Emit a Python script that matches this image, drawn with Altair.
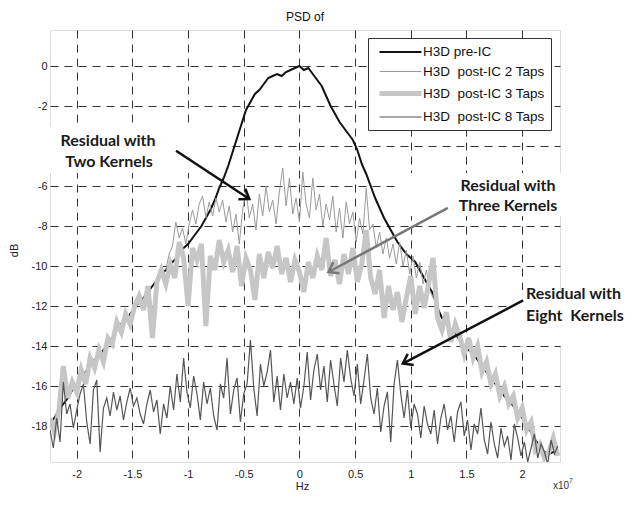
import altair as alt
import pandas as pd

# ---------------- data ----------------
F_START = -2.24          # first frequency sample, x10^7 Hz
STEP_A = 0.04            # grid of pre-IC and 3-tap traces
STEP_B = 0.03            # grid of 2-tap and 8-tap traces
TAP2_START = -1.20

PRE_IC = [
    -17.8, -17.6, -17.2, -16.9, -16.6, -16.2, -15.9, -15.6, -15.3, -15.0,
    -14.7, -14.5, -14.2, -13.9, -13.6, -13.2, -12.9, -12.7, -12.4, -12.1,
    -11.8, -11.6, -11.3, -11.0, -10.7, -10.4, -10.2, -9.9, -9.7, -9.4,
    -9.1, -8.9,
    -8.6, -8.3, -8.0, -7.6, -7.2, -6.7, -6.1, -5.6, -5.0, -4.3,
    -3.6, -2.9, -2.2, -1.8, -1.4, -1.2, -0.9, -0.6, -0.5, -0.4,
    -0.5, -0.3, -0.2, -0.1, 0.0, -0.2, -0.1, -0.4, -0.7, -1.0,
    -1.5, -2.0, -2.4, -2.8, -3.1, -3.4, -3.7, -4.2, -4.9, -5.4,
    -6.0, -6.6, -7.1, -7.6, -8.0, -8.4, -8.8, -9.1, -9.4, -9.6,
    -9.8, -10.2, -10.6, -11.0, -11.4, -12.1, -12.6, -12.9, -13.2, -13.4,
    -13.7, -14.0, -14.2, -14.4, -14.7, -15.0, -15.3, -15.6, -15.9, -16.2,
    -16.5, -16.7, -17.0, -17.3, -17.6, -17.9, -18.3, -18.7, -19.0, -19.3,
    -19.4, -19.3, -19.3,
]

TAP2 = [
    -10.2, -9.4, -9.0, -7.8, -8.6, -8.1, -8.9, -7.9, -7.2, -7.9,
    -6.9, -6.5, -7.6, -6.8, -7.5, -6.6, -7.3, -6.7, -7.8, -7.0,
    -8.3, -7.4, -8.9, -7.2, -6.2, -7.6, -6.9, -8.2, -6.4, -7.5,
    -6.0, -7.3, -6.7, -7.9, -6.3, -5.1, -7.0, -5.6, -7.4, -6.6,
    -7.8, -5.3, -6.9, -7.6, -5.6, -7.2, -6.4, -8.0, -6.9, -7.7,
    -6.5, -8.3, -7.1, -8.6, -6.8, -7.9, -7.3, -8.8, -7.6, -8.4,
    -6.1, -8.2, -7.9, -9.1, -8.3, -9.4, -8.6, -9.6, -8.9, -9.9,
    -8.8, -10.0, -9.2, -10.4, -9.5, -10.6, -9.8, -10.9, -10.2, -11.2,
    -11.6,
]

TAP3 = [
    -17.6, -18.3, -17.2, -15.0, -16.6, -15.8, -16.3, -15.2, -15.9, -14.6,
    -15.1, -14.2, -14.8, -13.6, -13.9, -12.8, -13.3, -12.4, -12.9, -12.0,
    -11.5, -12.2, -11.0, -13.6, -10.8, -10.2, -10.9, -9.9, -10.6, -8.8,
    -9.6, -12.0, -9.1, -9.7, -8.9, -13.0, -9.5, -10.2, -8.7, -9.8,
    -9.2, -10.3, -9.0, -11.0, -9.6, -10.2, -11.7, -9.4, -10.6, -9.3,
    -10.1, -9.0, -10.4, -9.6, -10.8, -9.7, -10.3, -11.3, -9.8, -10.6,
    -9.5, -10.2, -8.6, -10.5, -9.7, -10.9, -9.4, -10.4, -9.1, -10.8,
    -9.9, -8.2, -10.6, -11.4, -10.2, -12.6, -11.0, -12.2, -11.3, -12.8,
    -11.6, -10.5, -12.4, -11.0, -12.1, -10.9, -9.6, -12.6, -13.2, -12.3,
    -13.8, -12.9, -13.5, -14.4, -13.6, -14.6, -14.0, -15.3, -14.8, -15.9,
    -15.4, -16.5, -16.0, -16.9, -16.5, -17.6, -17.1, -18.2, -17.8, -19.2,
    -18.9, -19.6, -19.3, -18.6, -19.5,
]

TAP8 = [
    -18.2, -19.1, -17.6, -18.8, -15.8, -17.4, -16.9, -18.1, -17.2, -16.4,
    -15.9, -17.8, -18.9, -16.2, -15.7, -19.3, -17.1, -16.6, -17.5, -16.3,
    -17.2, -16.5, -17.7, -16.8, -16.1, -17.0, -16.6, -17.4, -17.9, -16.9,
    -16.2, -17.3, -16.7, -18.4, -16.9, -17.6, -16.0, -17.2, -15.4, -16.8,
    -14.6, -16.3, -17.1, -15.5, -16.4, -17.7, -15.8, -16.9, -16.1, -17.5,
    -18.2, -15.9, -16.6, -14.6, -17.4, -16.2, -15.6, -17.8, -16.4, -15.9,
    -13.7, -16.1, -17.5, -14.9, -16.0, -15.3, -14.2, -16.8, -15.5, -17.2,
    -15.4, -16.6, -15.8, -16.9, -15.6, -17.1, -16.0, -14.3, -16.7, -15.2,
    -14.4, -16.2, -15.0, -16.8, -14.7, -15.9, -17.0, -14.6, -15.8, -14.2,
    -15.6, -16.5, -14.9, -16.9, -15.7, -14.4, -16.6, -17.4, -16.1, -18.3,
    -17.0, -16.3, -18.8, -15.9, -14.7, -16.4, -17.6, -16.2, -18.1, -16.9,
    -17.4, -18.6, -17.0, -17.9, -18.4, -17.2, -18.9, -17.6, -16.9, -18.2,
    -17.5, -18.8, -17.3, -16.8, -18.5, -17.7, -19.2, -17.9, -18.4, -17.1,
    -18.7, -19.4, -17.8, -18.9, -19.6, -18.1, -19.0, -18.5, -19.7, -17.9,
    -18.6, -19.5, -18.8, -19.8, -19.1, -18.4, -19.6, -18.9, -19.3, -19.9,
    -18.7, -19.4, -19.0,
]

SERIES = [
    "H3D pre-IC",
    "H3D\u00a0 post-IC 2 Taps",
    "H3D\u00a0 post-IC 3 Taps",
    "H3D\u00a0 post-IC 8 Taps",
]
X_TICKS = [-2, -1.5, -1, -0.5, 0, 0.5, 1, 1.5, 2]
Y_TICKS = [-18, -16, -14, -12, -10, -8, -6, -4, -2, 0]

# ---------------- styling ----------------
COLORS = ["#111111", "#9a9a9a", "#c6c6c6", "#555555"]
WIDTHS = [2.0, 1.0, 5.0, 1.2]
FONT = "Liberation Sans"
W, H = 510, 432


def series_frame(values, start, step, name):
    return pd.DataFrame({
        "freq": [round(start + step * i, 3) for i in range(len(values))],
        "db": values,
        "series": name,
    })


frames = [
    series_frame(PRE_IC, F_START, STEP_A, SERIES[0]),
    series_frame(TAP2, TAP2_START, STEP_B, SERIES[1]),
    series_frame(TAP3, F_START, STEP_A, SERIES[2]),
    series_frame(TAP8, F_START, STEP_B, SERIES[3]),
]

x_scale = alt.Scale(domain=[-2.24, 2.34], nice=False, zero=False)
y_scale = alt.Scale(domain=[-19.8, 1.8], nice=False, zero=False)

x_axis = alt.Axis(
    values=X_TICKS, title="Hz", grid=True, ticks=False, domain=False,
    gridDash=[8, 6], gridColor="#333333", gridOpacity=1, gridWidth=1,
    labelFont=FONT, labelFontSize=11, labelColor="#222222", labelPadding=6,
    labelExpr="'' + datum.value", labelFlush=False,
    titleFont=FONT, titleFontSize=11, titleFontWeight="normal", titleColor="#222222",
    titleX=252, titleY=24, titleBaseline="middle", titleAlign="center",
)
y_axis = alt.Axis(
    values=Y_TICKS, title="dB", grid=True, ticks=False, domain=False,
    gridDash=[8, 6], gridColor="#333333", gridOpacity=1, gridWidth=1,
    labelFont=FONT, labelFontSize=11, labelColor="#222222", labelPadding=3,
    labelExpr="'' + datum.value", labelFlush=False,
    titleFont=FONT, titleFontSize=11, titleFontWeight="normal", titleColor="#222222",
    titleX=-36, titleY=220, titleAngle=270, titleBaseline="middle", titleAlign="center",
)
legend = alt.Legend(
    orient="none", legendX=318, legendY=8, title=None,
    symbolType="M-3,0L3,0", symbolSize=196, symbolOffset=17,
    labelFont=FONT, labelFontSize=13.5, labelColor="#111111", labelOffset=13,
    strokeColor="#333333", fillColor="white", padding=6, rowPadding=5,
)

line_layers = []
for df in frames:
    line_layers.append(
        alt.Chart(df).mark_line(clip=True, strokeJoin="miter").encode(
            x=alt.X("freq:Q", scale=x_scale, axis=x_axis),
            y=alt.Y("db:Q", scale=y_scale, axis=y_axis),
            color=alt.Color("series:N", scale=alt.Scale(domain=SERIES, range=COLORS), legend=legend),
            strokeWidth=alt.StrokeWidth(
                "series:N", scale=alt.Scale(type="ordinal", domain=SERIES, range=WIDTHS), legend=legend
            ),
        )
    )

one = pd.DataFrame({"k": [0]})

# white boxes behind the annotation texts (plot pixel coordinates)
BOXES = [(-15, 97, 168, 143), (347, 143, 522, 186), (458, 260, 580, 316)]
box_layers = [
    alt.Chart(one).mark_rect(fill="white", stroke=None).encode(
        x=alt.value(b[0]), y=alt.value(b[1]), x2=alt.value(b[2]), y2=alt.value(b[3])
    )
    for b in BOXES
]

# annotation texts
NOTES = [
    ("Residual with", 58, 111, "center"),
    ("Two Kernels", 59, 132, "center"),
    ("Residual with", 458, 156, "center"),
    ("Three Kernels", 458, 176, "center"),
    ("Residual with", 476, 264, "left"),
    ("Eight\u00a0 Kernels", 476, 286, "left"),
]
note_layers = [
    alt.Chart(one).mark_text(
        font="Lato", fontWeight="bold", fontSize=16, color="#1a1a1a",
        align=n[3], baseline="middle",
    ).encode(x=alt.value(n[1]), y=alt.value(n[2]), text=alt.value(n[0]))
    for n in NOTES
]

# arrows in data coordinates
ARROWS = pd.DataFrame({
    "x1": [-1.108, 1.333, 2.009],
    "y1": [-4.24, -7.09, -11.72],
    "x2": [-0.45, 0.261, 0.928],
    "y2": [-6.65, -10.30, -14.88],
    "col": ["#111111", "#777777", "#111111"],
    "ang": [34, 151, 152],
})
arrow_lines = alt.Chart(ARROWS).mark_rule(strokeWidth=2.5).encode(
    x=alt.X("x1:Q", scale=x_scale), y=alt.Y("y1:Q", scale=y_scale),
    x2="x2:Q", y2="y2:Q",
    color=alt.Color("col:N", scale=None),
)
arrow_heads = alt.Chart(ARROWS).mark_point(
    shape="M-1,-0.7L0,0L-1,0.7", filled=False, size=324, strokeWidth=2.5, opacity=1
).encode(
    x=alt.X("x2:Q", scale=x_scale), y=alt.Y("y2:Q", scale=y_scale),
    color=alt.Color("col:N", scale=None),
    angle=alt.Angle("ang:Q", scale=None),
)

# x10^7 exponent marker
exp_layers = [
    alt.Chart(one).mark_text(font=FONT, fontSize=10, color="#333333", align="left", baseline="alphabetic").encode(
        x=alt.value(503), y=alt.value(459), text=alt.value("x10")),
    alt.Chart(one).mark_text(font=FONT, fontSize=7, color="#333333", align="left", baseline="alphabetic").encode(
        x=alt.value(519), y=alt.value(453), text=alt.value("7")),
]

chart = alt.layer(
    *line_layers, *box_layers, arrow_lines, arrow_heads, *note_layers, *exp_layers
).properties(
    width=W, height=H,
    title=alt.TitleParams("PSD of", font=FONT, fontSize=12, fontWeight="normal", color="#111111", offset=6),
    autosize=alt.AutoSizeParams(type="none"),
    padding={"left": 42, "top": 22, "right": 65, "bottom": 30},
).configure_view(
    stroke="#555555", strokeWidth=1
).configure(background="white")

chart.save("out.html", embed_options={"renderer": "svg", "actions": False})
